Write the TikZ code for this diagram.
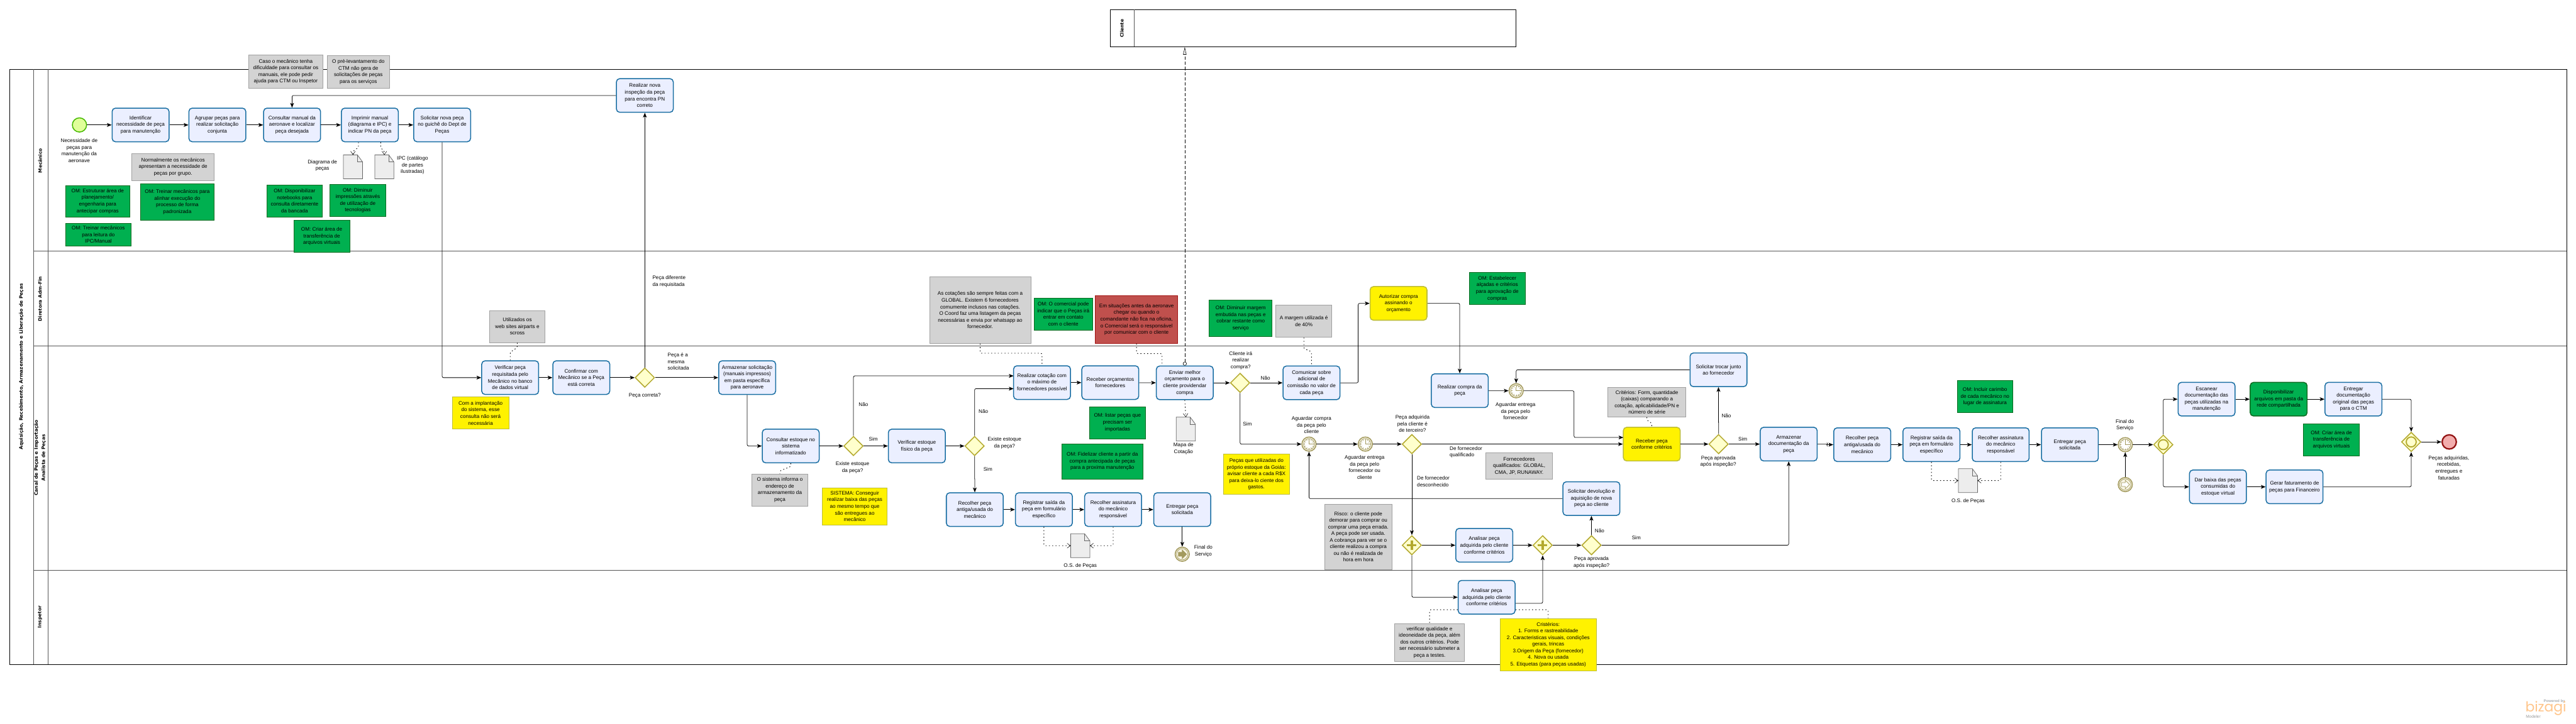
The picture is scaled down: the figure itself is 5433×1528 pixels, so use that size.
\documentclass[tikz,border=0pt]{standalone}
\usepackage{fontspec}
\setmainfont{Liberation Sans}
\newfontfamily\titlefont{DejaVu Sans}[BoldFont={DejaVu Sans Bold}]
\newfontfamily\logofont{Poppins}
\usetikzlibrary{arrows.meta,shapes.geometric}
\definecolor{taskfill}{HTML}{EBEFFF}
\definecolor{taskline}{HTML}{1A6FA3}
\definecolor{gatefill}{HTML}{FFFFCC}
\definecolor{gateline}{HTML}{B3A92E}
\definecolor{evline}{HTML}{A39A5E}
\definecolor{evfill}{HTML}{F7F4E4}
\definecolor{greenfill}{HTML}{00B050}
\definecolor{greenline}{HTML}{0B6A1F}
\definecolor{yelline}{HTML}{BDBD3A}
\definecolor{grayfill}{HTML}{D3D3D3}
\definecolor{grayline}{HTML}{A0A0A0}
\definecolor{redfill}{HTML}{C0504D}
\definecolor{redline}{HTML}{A31515}
\definecolor{laneline}{HTML}{555555}
\newcommand\txt{\fontsize{10.8}{14}\selectfont}
\newcommand\ttl{\titlefont\bfseries\fontsize{9.8}{15}\selectfont}
\tikzset{
  task/.style={draw=taskline,fill=taskfill,line width=2pt,rounded corners=7pt,minimum width=120pt,minimum height=71pt,inner sep=0pt,align=center,font=\txt},
  taskyellow/.style={task,draw=yelline,fill=yellow},
  taskgreen/.style={task,draw=greenline,fill=greenfill},
  notebase/.style={line width=1pt,inner sep=0pt,align=center,font=\txt},
  notegray/.style={notebase,draw=grayline,fill=grayfill},
  notegreen/.style={notebase,draw=greenline,fill=greenfill},
  noteyellow/.style={notebase,draw=yelline,fill=yellow},
  notered/.style={notebase,draw=redline,fill=redfill},
  lbl/.style={inner sep=0pt,align=center,font=\txt},
  lblleft/.style={inner sep=0pt,align=left,anchor=west,font=\txt},
  gate/.style={diamond,aspect=1,draw=gateline,fill=gatefill,line width=2pt,minimum width=41pt,minimum height=41pt,inner sep=0pt},
  startev/.style={circle,draw=green!45!olive,fill=green!30!yellow!40,line width=2pt,minimum size=30pt,inner sep=0pt},
  endev/.style={circle,draw=redline!90!black,fill=red!30!white!90!gray,line width=3pt,minimum size=30pt,inner sep=0pt},
  midev/.style={circle,draw=evline,fill=evfill,line width=2pt,minimum size=30pt,inner sep=0pt},
  docbase/.style={minimum width=40pt,minimum height=50pt,inner sep=0pt},
  docline/.style={draw=black!60,fill=black!7,line width=1pt},
  flow/.style={draw=black,line width=1pt,rounded corners=3pt,-{Stealth[length=10pt,width=8pt,inset=2.5pt]}},
  assoc/.style={draw=black,line width=1.2pt,dash pattern=on 2pt off 5pt,rounded corners=3pt},
  assocarrow/.style={assoc,-{Straight Barb[length=7pt,width=10pt,line width=.7pt]}},
  msgflow/.style={draw=black,line width=.8pt,dash pattern=on 7pt off 4pt,{Circle[open,length=8pt,width=8pt,fill=white]}-{Triangle[open,length=16pt,width=7pt,fill=white]}},
  laneln/.style={draw=laneline,line width=1pt},
  pooltitle/.style={rotate=90,inner sep=0pt,align=center,font=\ttl}
}
\newcommand\docnode[3]{%
  \node[docbase] (#1) at (#2,#3) {};
  \draw[docline] (#1.north west) -- ([xshift=-11pt]#1.north east) -- ([yshift=-15pt]#1.north east) -- (#1.south east) -- (#1.south west) -- cycle;
  \draw[draw=black!60,line width=.7pt] ([xshift=-11pt]#1.north east) -- ([xshift=-11pt,yshift=-15pt]#1.north east) -- ([yshift=-15pt]#1.north east);}
\newcommand\timerev[3]{%
  \node[midev] (#1) at (#2,#3) {};
  \draw[evline,line width=1pt,fill=white] (#1) circle (11.5);
  \foreach \a in {0,30,...,330}{\draw[evline,line width=.8pt] (#1)+(\a:8) -- +(\a:11);}
  \draw[evline,line width=1.1pt] (#1)+(0,-8) -- (#1.center) -- +(8,0);}
\newcommand\linkev[4]{%
  \node[midev] (#1) at (#2,#3) {};
  \draw[evline,line width=1pt] (#1) circle (12);
  \draw[evline,line width=1pt,fill=#4] (#1)+(-8,-4) -- +(0,-4) -- +(0,-9) -- +(9,0) -- +(0,9) -- +(0,4) -- +(-8,4) -- cycle;}
\begin{document}
\begin{tikzpicture}[x=1pt,y=-1pt]
\useasboundingbox (0,0) rectangle (5433,1528);
\fill[white] (0,0) rectangle (5433,1528);
% pools and lanes
\draw[laneln,draw=black] (21,146) rectangle (5413,1402);
\draw[laneln] (70.6,146) -- (70.6,1402);
\draw[laneln,line width=.7pt] (100.5,146) -- (100.5,1402);
\draw[laneln] (70.6,530) -- (5413,530);
\draw[laneln] (70.6,730) -- (5413,730);
\draw[laneln] (70.6,1203) -- (5413,1203);
\node[pooltitle] (tPool) at (45,774) {Aquisição, Recebimento, Armazenamento e Liberação de Peças};
\node[pooltitle] (tMec) at (84.5,339) {Mecânico};
\node[pooltitle] (tDir) at (84.5,631) {Diretora Adm-Fin};
\node[pooltitle] (tCanal) at (84.5,966) {Canal de Peças e Importação\\Analista de Peças};
\node[pooltitle] (tInsp) at (84.5,1302) {Inspetor};
\node[draw=black,line width=1pt,minimum width=855.3pt,minimum height=78.4pt,inner sep=0pt] (cliente) at (2769.65,59.5) {};
\draw[laneln] (2392.5,20.3) -- (2392.5,98.7);
\node[pooltitle] (tCli) at (2366,60) {Cliente};
% notes
\node[notegray,minimum width=156pt,minimum height=70pt] (n1) at (602.7,151) {Caso o mecânico tenha\\dificuldade para consultar os\\manuais, ele pode pedir\\ajuda para CTM ou Inspetor};
\node[notegray,minimum width=130.4pt,minimum height=69pt] (n2) at (755.8,151.5) {O pré-levantamento do\\CTM não gera de\\solicitações de peças\\para os serviços};
\node[notegray,minimum width=173.4pt,minimum height=57pt] (n3) at (365,352.5) {Normalmente os mecânicos\\apresentam a necessidade de\\peças por grupo.};
\node[notegreen,minimum width=136pt,minimum height=66.4pt] (g1) at (206,424.5) {OM: Estruturar área de\\planejamento/\\engenharia para\\antecipar compras};
\node[notegreen,minimum width=154.2pt,minimum height=76pt] (g2) at (373.9,426.3) {OM: Treinar mecânicos para\\alinhar execução do\\processo de forma\\padronizada};
\node[notegreen,minimum width=117.4pt,minimum height=67.7pt] (g3) at (621.3,423.9) {OM: Disponibilizar\\notebooks para\\consulta diretamente\\da bancada};
\node[notegreen,minimum width=117.6pt,minimum height=67.7pt] (g4) at (754.6,422.9) {OM: Diminuir\\impressões através\\de utilização de\\tecnologias};
\node[notegreen,minimum width=139.2pt,minimum height=48pt] (g5) at (207.4,495) {OM: Treinar mecânicos\\para leitura do\\IPC/Manual};
\node[notegreen,minimum width=118.3pt,minimum height=67.7pt] (g6) at (678.5,498.9) {OM: Criar área de\\transferência de\\arquivos virtuais};
\node[notegray,minimum width=117.5pt,minimum height=67.7pt] (nUtil) at (1091,689) {Utilizados os\\web sites airparts e\\scross};
\node[noteyellow,minimum width=119pt,minimum height=67.7pt] (y1) at (1013.5,871.9) {Com a implantação\\do sistema, esse\\consulta não será\\necessária};
\node[notegray,minimum width=213.5pt,minimum height=141pt] (nCot) at (2067.2,654.5) {As cotações são sempre feitas com a\\GLOBAL. Existem 6 fornecedores\\comumente inclusos nas cotações.\\O Coord faz uma listagem da peças\\necessárias e envia por whatsapp ao\\fornecedor.};
\node[notegreen,minimum width=124.3pt,minimum height=67.7pt] (g7) at (2242.6,662.9) {OM: O comercial pode\\indicar que o Peças irá\\entrar em contato\\com o cliente};
\node[notered,minimum width=174pt,minimum height=100.7pt] (nRed) at (2397,674.4) {Em situações antes da aeronave\\chegar ou quando o\\comandante não fica na oficina,\\o Comercial será o responsável\\por comunicar com o cliente};
\node[notegreen,minimum width=118pt,minimum height=67.7pt] (g8) at (2356.8,891.9) {OM: listar peças que\\precisam ser\\importadas};
\node[notegreen,minimum width=170.2pt,minimum height=73.4pt] (g9) at (2324.9,974) {OM: Fidelizar cliente a partir da\\compra antecipada de peças\\para a proxima manutenção};
\node[notegray,minimum width=118.5pt,minimum height=67.7pt] (nSis) at (1644.7,1033.9) {O sistema informa o\\endereço de\\armazenamento da\\peça};
\node[noteyellow,minimum width=136.6pt,minimum height=78.4pt] (y2) at (1802.7,1068.5) {SISTEMA: Conseguir\\realizar baixa das peças\\ao mesmo tempo que\\são entregues ao\\mecânico};
\node[noteyellow,minimum width=140.3pt,minimum height=85.4pt] (y3) at (2649.9,1001) {Peças que utilizadas do\\próprio estoque da Goiás:\\avisar cliente a cada R\$X\\para deixa-lo ciente dos\\gastos.};
\node[notegreen,minimum width=132.6pt,minimum height=77.4pt] (g10) at (2616.7,672) {OM: Diminuir margem\\embutida nas peças e\\cobrar restante como\\serviço};
\node[notegray,minimum width=118.3pt,minimum height=68pt] (nMar) at (2749.9,678) {A margem utilizada é\\de 40\%};
\node[notegreen,minimum width=118pt,minimum height=67.4pt] (g11) at (3157.9,609) {OM: Estabelecer\\alçadas e critérios\\para aprovação de\\compras};
\node[notegray,minimum width=164.7pt,minimum height=62pt] (nCrit) at (3473.4,849) {Critérios: Form, quantidade\\(caixas) comparando a\\cotação, aplicabilidade/PN e\\número de série};
\node[notegray,minimum width=140pt,minimum height=55.7pt] (nForn) at (3204,983.2) {Fornecedores\\qualificados: GLOBAL,\\CMA, JP, RUNAWAY.};
\node[notegray,minimum width=142.6pt,minimum height=137.7pt] (nRis) at (2864.7,1132.9) {Risco: o cliente pode\\demorar para comprar ou\\comprar uma peça errada.\\A peça pode ser usada.\\A cobrança para ver se o\\cliente realizou a compra\\ou não é realizada de\\hora em hora};
\node[notegray,minimum width=147.5pt,minimum height=80pt] (nVer) at (3015,1356) {verificar qualidade e\\ideoneidade da peça, além\\dos outros critérios. Pode\\ser necessário submeter a\\peça a testes.};
\node[noteyellow,minimum width=202pt,minimum height=110.4pt] (yCrit) at (3265.3,1360.5) {Cristérios:\\1. Forms e rastreabilidade\\2. Caracteristicas visuais, condições\\gerais, trincas\\3.Origem da Peça (fornecedor)\\4. Nova ou usada\\5. Etiquetas (para peças usadas)};
\node[notegreen,minimum width=117.2pt,minimum height=67.4pt] (g12) at (4186.4,837) {OM: Incluir carimbo\\de cada mecânico no\\lugar de assinatura};
\node[notegreen,minimum width=118pt,minimum height=67.4pt] (g13) at (4917,928) {OM: Criar área de\\transferência de\\arquivos virtuais};
% events
\node[startev] (S) at (167.6,263.7) {};
\node[lbl] (lS) at (167,318) {Necessidade de\\peças para\\manutenção da\\aeronave};
% tasks
\node[task] (T1) at (296.5,263.7) {Identificar\\necessidade de peça\\para manutenção};
\node[task] (T2) at (458.4,263.7) {Agrupar peças para\\realizar solicitação\\conjunta};
\node[task] (T3) at (616,263.7) {Consultar manual da\\aeronave e localizar\\peça desejada};
\node[task] (T4) at (780,263.7) {Imprimir manual\\(diagrama e IPC) e\\indicar PN da peça};
\node[task] (T5) at (932.5,263.7) {Solicitar nova peça\\no guichê do Dept de\\Peças};
\node[task] (T6) at (1360,201.5) {Realizar nova\\inspeção da peça\\para encontra PN\\correto};
\docnode{D1}{744.5}{352}
\node[lbl] (lD1) at (680,349.3) {Diagrama de\\peças};
\docnode{D2}{810.6}{352}
\node[lbl] (lD2) at (870,349) {IPC (catálogo\\de partes\\ilustradas)};
\node[task] (T7) at (1076,797) {Verificar peça\\requisitada pelo\\Mecânico no banco\\de dados virtual};
\node[task] (T8) at (1226,797) {Confirmar com\\Mecânico se a Peça\\está correta};
\node[gate] (G1) at (1360,797) {};
\node[lbl] (lG1) at (1360,835.6) {Peça correta?};
\node[lblleft] (lDif) at (1376,594) {Peça diferente\\da requisitada};
\node[lblleft] (lMes) at (1408,763) {Peça é a\\mesma\\solicitada};
\node[task] (T9) at (1575.8,797) {Armazenar solicitação\\(manuais impressos)\\em pasta específica\\para aeronave};
\node[task] (T10) at (1667.7,941.3) {Consultar estoque no\\sistema\\informatizado};
\node[gate] (G2) at (1800,941.3) {};
\node[lbl] (lG2) at (1798,987) {Existe estoque\\da peça?};
\node[lbl] (lG2s) at (1842,926) {Sim};
\node[lbl] (lG2n) at (1821,854) {Não};
\node[task] (T11) at (1933.6,941.3) {Verificar estoque\\físico da peça};
\node[gate] (G3) at (2055.5,941.3) {};
\node[lbl] (lG3) at (2118.6,935) {Existe estoque\\da peça?};
\node[lbl] (lG3n) at (2074,868) {Não};
\node[lbl] (lG3s) at (2083.5,990) {Sim};
\node[task] (T12) at (2197.7,807.5) {Realizar cotação com\\o máximo de\\fornecedores possível};
\coordinate (T12a) at (2137.7,793.3);
\coordinate (T12b) at (2137.7,820.3);
\node[task] (T13) at (2341.7,807.5) {Receber orçamentos\\fornecedores};
\node[task] (T14) at (2498.8,808) {Enviar melhor\\orçamento para o\\cliente providendar\\compra};
\docnode{D4}{2501}{905.5}
\node[lbl] (lD4) at (2496,947.3) {Mapa de\\Cotação};
\node[task] (T15) at (2055.9,1075.5) {Recolher peça\\antiga/usada do\\mecânico};
\node[task] (T16) at (2201.6,1075.5) {Registrar saída da\\peça em formulário\\específico};
\node[task] (T17) at (2347.7,1075.5) {Recolher assinatura\\do mecânico\\responsável};
\node[task] (T18) at (2493.4,1075.5) {Entregar peça\\solicitada};
\docnode{D3}{2278.4}{1151.7}
\node[lbl] (lD3) at (2278.4,1194.3) {O.S. de Peças};
\linkev{E0}{2493.4}{1169.7}{evline}
\node[lbl] (lE0) at (2538,1163) {Final do\\Serviço};
\node[gate] (G4) at (2615.4,808) {};
\node[lbl] (lG4) at (2616.7,761) {Cliente irá\\realizar\\compra?};
\node[lbl] (lG4n) at (2669,798) {Não};
\node[lbl] (lG4s) at (2630.7,894.3) {Sim};
\node[task] (T19) at (2766,808) {Comunicar sobre\\adicional de\\comissão no valor de\\cada peça};
\node[taskyellow] (T20) at (2949.6,640.3) {Autorizar compra\\assinando o\\orçamento};
\node[task] (T21) at (3078.7,824.5) {Realizar compra da\\peça};
\timerev{E1}{3197.7}{824.7}
\node[lbl] (lE1) at (3196.4,867.7) {Aguardar entrega\\da peça pelo\\fornecedor};
\timerev{E4}{2760.8}{937.3}
\node[lbl] (lE4) at (2766,897.3) {Aguardar compra\\da peça pelo\\cliente};
\timerev{E5}{2879.5}{937.3}
\node[lbl] (lE5) at (2878,986.3) {Aguardar entrega\\da peça pelo\\fornecedor ou\\cliente};
\node[gate] (G8) at (2977.7,937.3) {};
\node[lbl] (lG8) at (2979,894.3) {Peça adquirida\\pela cliente é\\de terceiro?};
\node[lblleft] (lQual) at (3057.4,954.3) {De fornecedor\\qualificado};
\node[lblleft] (lDesc) at (2988.5,1016.3) {De fornecedor\\desconhecido};
\node[task] (T23) at (3624.4,780.5) {Solicitar trocar junto\\ao fornecedor};
\node[taskyellow] (T22) at (3483.7,937.3) {Receber peça\\conforme critérios};
\coordinate (T22a) at (3423.7,923.3);
\node[gate] (G5) at (3624.6,937.3) {};
\node[lbl] (lG5) at (3624,974.3) {Peça aprovada\\após inspeção?};
\node[lbl] (lG5n) at (3641,878) {Não};
\node[lbl] (lG5s) at (3675.6,926) {Sim};
\node[task] (T24) at (3772.5,937.3) {Armazenar\\documentação da\\peça};
\node[task] (T25) at (3927.5,938.5) {Recolher peça\\antiga/usada do\\mecânico};
\node[task] (T26) at (4073.5,938.5) {Registrar saída da\\peça em formulário\\específico};
\node[task] (T27) at (4219.6,938.5) {Recolher assinatura\\do mecânico\\responsável};
\docnode{D5}{4150.5}{1014.3}
\node[lbl] (lD5) at (4150.8,1057.3) {O.S. de Peças};
\node[task] (T28) at (4365.5,938.5) {Entregar peça\\solicitada};
\timerev{E2}{4482.3}{938.5}
\node[lbl] (lE2) at (4481.5,897.3) {Final do\\Serviço};
\linkev{E3}{4482.3}{1022.7}{white}
\node[gate] (G6) at (4562.5,938.5) {};
\draw[gateline,line width=2.5pt] (G6) circle (10.5);
\node[task] (T29) at (4653.7,842.5) {Escanear\\documentação das\\peças utilizadas na\\manutenção};
\node[taskgreen] (T30) at (4805.8,842.5) {Disponibilizar\\arquivos em pasta da\\rede compartilhada};
\node[task] (T31) at (4963.5,842.5) {Entregar\\documentação\\original das peças\\para o CTM};
\node[task] (T32) at (4677.8,1027.5) {Dar baixa das peças\\consumidas do\\estoque virtual};
\node[task] (T33) at (4839.3,1027.5) {Gerar faturamento de\\peças para Financeiro};
\node[gate] (G7) at (5085.4,932.7) {};
\draw[gateline,line width=2.5pt] (G7) circle (10.5);
\node[endev] (End) at (5165.6,932.7) {};
\node[lbl] (lEnd) at (5164.8,987.3) {Peças adquiridas,\\recebidas,\\entregues e\\faturadas};
\node[gate] (G9) at (2977.7,1150.7) {};
\node[task] (T35) at (3130.4,1150.7) {Analisar peça\\adquirida pelo cliente\\conforme critérios};
\node[gate] (G10) at (3253.6,1150.7) {};
\node[gate] (G11) at (3356.6,1150.7) {};
\foreach \g in {G9,G10}{
  \draw[gateline,line width=5pt] (\g)+(-10,0) -- +(10,0);
  \draw[gateline,line width=5pt] (\g)+(0,-10) -- +(0,10);}
\node[lbl] (lG11) at (3356.6,1187.3) {Peça aprovada\\após inspeção?};
\node[lbl] (lG11n) at (3373.5,1120.3) {Não};
\node[lbl] (lG11s) at (3451,1135.3) {Sim};
\node[task] (T34) at (3356.4,1052.3) {Solicitar devolução e\\aquisição de nova\\peça ao cliente};
\node[task] (T36) at (3135.4,1260.5) {Analisar peça\\adquirida pelo cliente\\conforme critérios};
% logo
\node[inner sep=0pt,anchor=east,font=\bfseries\fontsize{8}{9}\selectfont,text=black!35!cyan!10!gray!70] (lgP) at (5410,1480) {Powered by};
\node[inner sep=0pt,anchor=west,font=\logofont\fontsize{29}{30}\selectfont,text=orange!45!white] (lgB) at (5326,1495) {bizagi};
\node[inner sep=0pt,anchor=west,font=\fontsize{8.6}{9}\selectfont,text=black!40] (lgM) at (5327,1512) {Modeler};
% sequence flows
\draw[flow] (S) -- (T1);
\draw[flow] (T1) -- (T2);
\draw[flow] (T2) -- (T3);
\draw[flow] (T3) -- (T4);
\draw[flow] (T4) -- (T5);
\draw[flow] (T6.west) -| (T3.north);
\draw[flow] (T5.south) |- (T7.west);
\draw[flow] (T7) -- (T8);
\draw[flow] (T8) -- (G1);
\draw[flow] (G1.north) -- (T6.south);
\draw[flow] (G1) -- (T9);
\draw[flow] (T9.south) |- (T10.west);
\draw[flow] (T10) -- (G2);
\draw[flow] (G2) -- (T11);
\draw[flow] (T11) -- (G3);
\draw[flow] (G2.north) |- (T12a);
\draw[flow] (G3.north) |- (T12b);
\draw[flow] (G3.south) -- (T15.north);
\draw[flow] (T15) -- (T16);
\draw[flow] (T16) -- (T17);
\draw[flow] (T17) -- (T18);
\draw[flow] (T18.south) -- (E0.north);
\draw[flow] (T12) -- (T13);
\draw[flow] (T13) -- (T14);
\draw[flow] (T14) -- (G4);
\draw[flow] (G4) -- (T19);
\draw[flow] (T19.east) -- ++(37.5,0) |- (T20.west);
\draw[flow] (T20.east) -| (T21.north);
\draw[flow] (T21) -- (E1);
\draw[flow] (E1.east) -- ++(106,0) |- (T22a);
\draw[flow] (G4.south) |- (E4.west);
\draw[flow] (E4) -- (E5);
\draw[flow] (E5) -- (G8);
\draw[flow] (G8) -- (T22);
\draw[flow] (G8.south) -- (G9.north);
\draw[flow] (G9) -- (T35);
\draw[flow] (T35) -- (G10);
\draw[flow] (G10) -- (G11);
\draw[flow] (G11.north) -- (T34.south);
\draw[flow] (T34.west) -| (E4.south);
\draw[flow] (G11.east) -| (T24.south);
\draw[flow] (G9.south) |- (T36.west);
\draw[flow] ([yshift=-12.8pt]T36.east) -| (G10.south);
\draw[flow] (T22) -- (G5);
\draw[flow] (G5) -- (T24);
\draw[flow] (G5.north) -- (T23.south);
\draw[flow] (T23.west) -| (E1.north);
\draw[flow] (T24.east) -- ++(20,0) |- (T25.west);
\draw[flow] (T25) -- (T26);
\draw[flow] (T26) -- (T27);
\draw[flow] (T27) -- (T28);
\draw[flow] (T28) -- (E2);
\draw[flow] (E3.north) -- (E2.south);
\draw[flow] (E2) -- (G6);
\draw[flow] (G6.north) |- (T29.west);
\draw[flow] (G6.south) |- (T32.west);
\draw[flow] (T29) -- (T30);
\draw[flow] (T30) -- (T31);
\draw[flow] (T32) -- (T33);
\draw[flow] (T31.east) -| (G7.north);
\draw[flow] (T33.east) -| (G7.south);
\draw[flow] (G7) -- (End);
% message flow
\draw[msgflow] (T14.north) -- (T14.north |- cliente.south);
% associations
\draw[assocarrow] ([xshift=-24pt]T4.south) -- ++(0,11) -- ++(-11.5,8) -- (D1.north);
\draw[assocarrow] ([xshift=23pt]T4.south) -- ++(0,12) -- ++(7.6,7) -- (D2.north);
\draw[assoc] (nUtil.south) -- ++(0,10) -- ++(-15,10) -- (T7.north);
\draw[assoc] (T10.south) -- ++(0,7) -- ++(-23,9) -- (nSis.north);
\draw[assoc] (nCot.south) -- ++(0,20) -| (T12.north);
\draw[assoc] (nRed.south) -- ++(0,21) -| ([xshift=-48pt]T14.north);
\draw[assoc] (nMar.south) -- ++(0,23) -- ++(16,7) -- (T19.north);
\draw[assoc] (nCrit.south) -- ++(0,6) -- ++(10.3,7) -- (T22.north);
\draw[assocarrow] (T14.south) -- (D4.north);
\draw[assocarrow] (T16.south) |- (D3.west);
\draw[assocarrow] (T17.south) |- (D3.east);
\draw[assocarrow] (T26.south) |- (D5.west);
\draw[assocarrow] (T27.south) |- (D5.east);
\draw[assoc] ([yshift=-26.2pt]T36.west) -| (nVer.north);
\draw[assoc] ([yshift=-26.2pt]T36.east) -| (yCrit.north);
\end{tikzpicture}
\end{document}
